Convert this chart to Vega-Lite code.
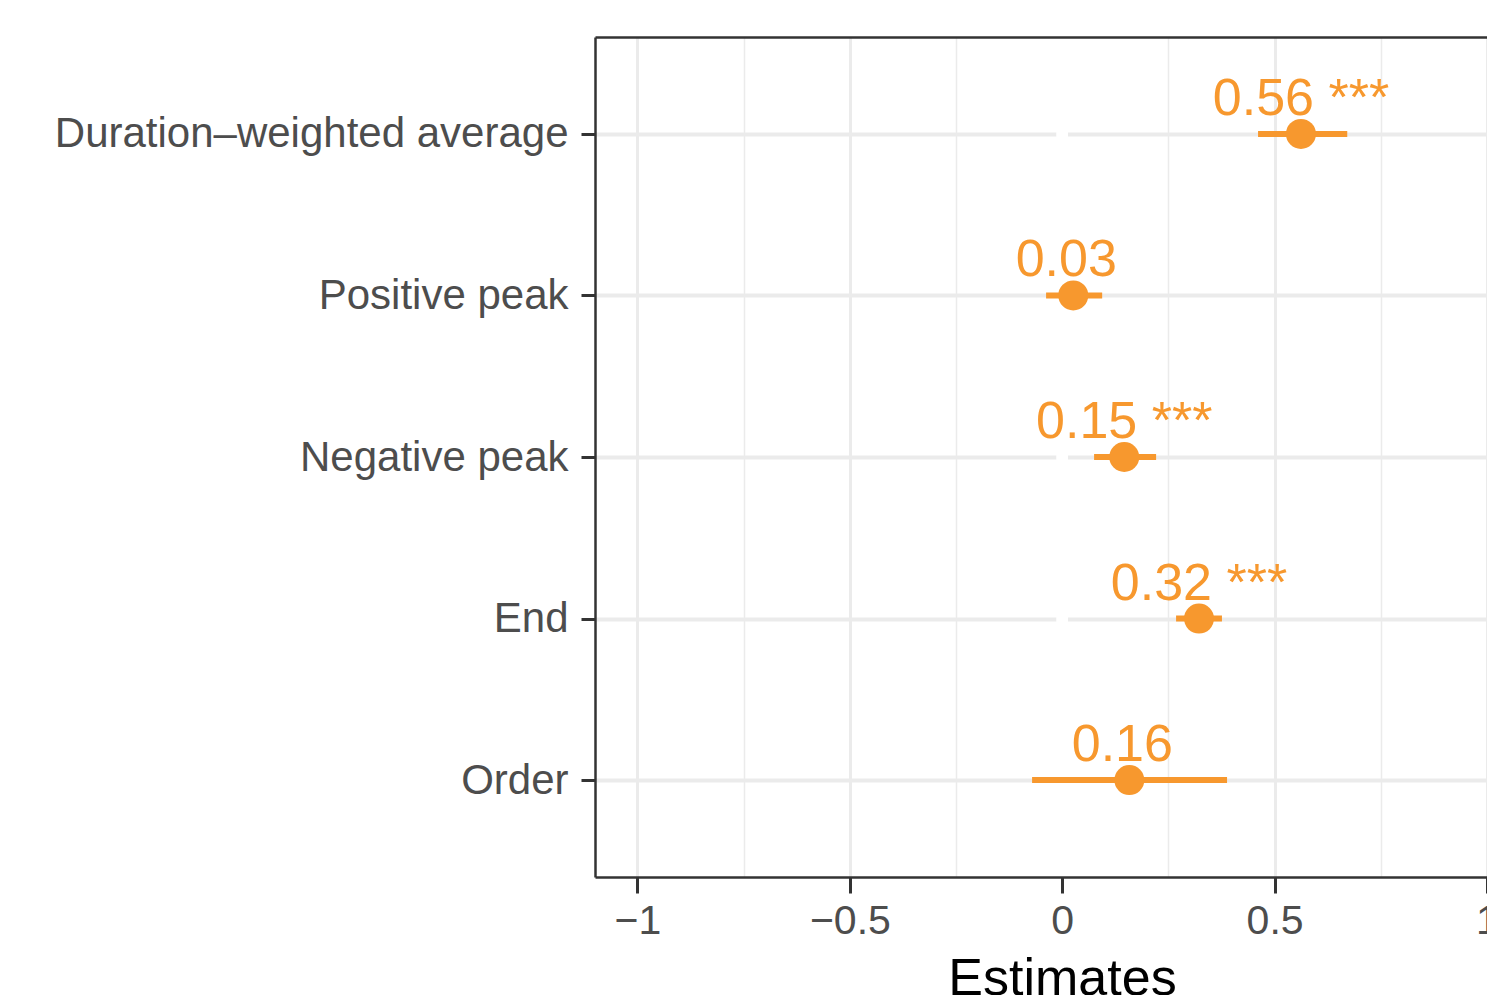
{
  "$schema": "https://vega.github.io/schema/vega-lite/v6.json",
  "autosize": {"type": "none"},
  "padding": {"left": 595, "top": 37, "right": 0, "bottom": 118},
  "width": 892,
  "height": 840,
  "background": "white",
  "config": {
    "view": {"stroke": null},
    "font": "Liberation Sans"
  },
  "data": {
    "values": [
      {"term": "Duration–weighted average", "est": 0.562, "low": 0.461, "high": 0.671, "label": "0.56 ***"},
      {"term": "Positive peak", "est": 0.026, "low": -0.038, "high": 0.094, "label": "0.03"},
      {"term": "Negative peak", "est": 0.146, "low": 0.075, "high": 0.221, "label": "0.15 ***"},
      {"term": "End", "est": 0.322, "low": 0.268, "high": 0.376, "label": "0.32 ***"},
      {"term": "Order", "est": 0.158, "low": -0.071, "high": 0.388, "label": "0.16"}
    ]
  },
  "resolve": {"axis": {"x": "independent"}},
  "layer": [
    {
      "mark": {"type": "rule", "color": "white", "strokeWidth": 11},
      "encoding": {
        "x": {
          "datum": 0,
          "type": "quantitative",
          "scale": {"domain": [-1.1, 1.0], "nice": false, "zero": false},
          "axis": {
            "orient": "top",
            "values": [-0.75, -0.25, 0.25, 0.75],
            "labels": false,
            "ticks": false,
            "title": null,
            "domain": false,
            "grid": true,
            "gridColor": "#EBEBEB",
            "gridWidth": 1.5,
            "zindex": 0
          }
        }
      }
    },
    {
      "mark": {"type": "rule", "color": "#F7982E", "strokeWidth": 6},
      "encoding": {
        "y": {
          "field": "term",
          "type": "nominal",
          "sort": null,
          "scale": {"type": "point", "padding": 0.6},
          "axis": {
            "title": null,
            "labelFontSize": 42,
            "labelColor": "#4D4D4D",
            "labelPadding": 13,
            "labelLimit": 0,
            "tickSize": 14,
            "tickWidth": 3,
            "tickColor": "#333333",
            "domainColor": "#333333",
            "domainWidth": 2.5,
            "grid": true,
            "gridColor": "#EBEBEB",
            "gridWidth": 4
          }
        },
        "x": {
          "field": "low",
          "type": "quantitative",
          "scale": {"domain": [-1.1, 1.0], "nice": false, "zero": false},
          "axis": {
            "orient": "bottom",
            "values": [-1, -0.5, 0, 0.5, 1],
            "format": "~g",
            "title": "Estimates",
            "titleFontSize": 52,
            "titleFontWeight": "normal",
            "titleColor": "#000000",
            "titlePadding": 12,
            "titleX": 467,
            "titleAnchor": "middle",
            "titleAlign": "center",
            "labelFontSize": 41,
            "labelColor": "#4D4D4D",
            "labelPadding": 8,
            "labelFlush": false,
            "labelOverlap": false,
            "tickSize": 16,
            "tickWidth": 3,
            "tickColor": "#333333",
            "domain": false,
            "grid": true,
            "gridColor": "#EBEBEB",
            "gridWidth": 3,
            "zindex": 0
          }
        },
        "x2": {"field": "high"}
      }
    },
    {
      "mark": {"type": "point", "filled": true, "color": "#F7982E", "opacity": 1, "size": 900},
      "encoding": {
        "y": {"field": "term", "type": "nominal", "sort": null},
        "x": {
          "field": "est",
          "type": "quantitative",
          "axis": {
            "orient": "top",
            "labels": false,
            "ticks": false,
            "grid": false,
            "title": null,
            "domain": true,
            "domainColor": "#333333",
            "domainWidth": 2.5,
            "zindex": 1
          }
        }
      }
    },
    {
      "transform": [{"filter": "indexof(datum.label, '*') >= 0"}],
      "mark": {"type": "text", "color": "#F7982E", "fontSize": 52, "baseline": "alphabetic", "align": "center", "dy": -19},
      "encoding": {
        "y": {"field": "term", "type": "nominal", "sort": null},
        "x": {
          "field": "est",
          "type": "quantitative",
          "axis": {
            "orient": "bottom",
            "labels": false,
            "ticks": false,
            "grid": false,
            "title": null,
            "domain": true,
            "domainColor": "#333333",
            "domainWidth": 2.5,
            "zindex": 1
          }
        },
        "text": {"field": "label"}
      }
    },
    {
      "transform": [{"filter": "indexof(datum.label, '*') < 0"}],
      "mark": {"type": "text", "color": "#F7982E", "fontSize": 52, "baseline": "alphabetic", "align": "center", "dy": -19, "dx": -7},
      "encoding": {
        "y": {"field": "term", "type": "nominal", "sort": null},
        "x": {"field": "est", "type": "quantitative", "axis": null},
        "text": {"field": "label"}
      }
    }
  ]
}
